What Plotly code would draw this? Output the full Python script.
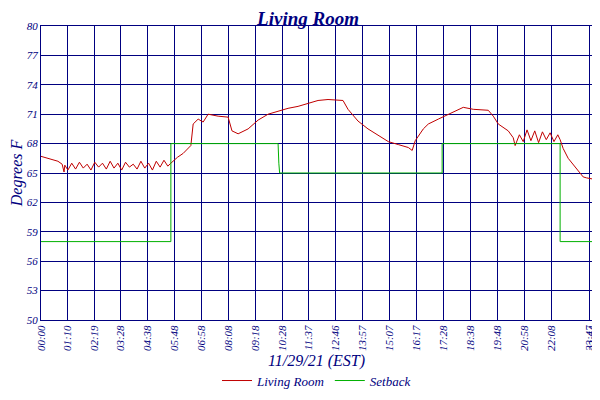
import plotly.graph_objects as go

# minutes since midnight
room_t = [0, 30, 44, 55, 60, 62,
          70, 80, 90, 100, 110, 120, 130, 140, 150, 160, 170, 180, 190, 200,
          210, 220, 230, 240, 250, 260, 270, 280, 290, 300, 310, 320, 330,
          338, 355, 370, 390, 396, 409, 422, 435, 461, 487, 497, 513, 539, 565,
          591, 617, 643, 669, 695, 721, 747, 786, 799, 825, 851, 878, 904, 930,
          956, 966, 974, 995, 1008, 1034, 1060, 1086, 1099, 1125, 1164, 1177,
          1190, 1216, 1229, 1234, 1245, 1255, 1265, 1275, 1285, 1295, 1305,
          1315, 1325, 1335, 1345, 1351, 1359, 1372, 1385, 1398, 1411, 1420, 1434]
room_v = [66.7, 66.4, 66.2, 65.9, 65.1, 65.8,
          65.3, 66.0, 65.4, 66.1, 65.5, 65.9, 65.3, 66.1, 65.6, 66.0, 65.4, 66.2,
          65.5, 66.0, 65.3, 66.1, 65.6, 65.9, 65.4, 66.2, 65.5, 66.0, 65.3, 66.2,
          65.6, 66.3, 65.7,
          66.0, 66.6, 67.0, 67.8, 70.0, 70.5, 70.2, 71.0, 70.8, 70.7, 69.3, 69.0,
          69.5, 70.4, 71.0, 71.3, 71.6, 71.8, 72.1, 72.4, 72.5, 72.4, 71.5, 70.3,
          69.5, 68.8, 68.2, 67.9, 67.6, 67.3, 68.3, 69.5, 70.0, 70.5, 71.0, 71.5,
          71.7, 71.5, 71.4, 70.8, 70.0, 69.3, 68.6, 67.8, 68.9, 68.2, 69.4, 68.3,
          69.3, 68.1, 69.2, 68.4, 69.1, 68.2, 68.9, 68.4, 67.5, 66.5, 65.9, 65.3,
          64.6, 64.5, 64.4]

setback_t = [0, 338, 338, 617, 619, 621, 1044, 1044, 1351, 1351, 1434]
setback_v = [58, 58, 68, 68, 66, 65, 65, 68, 68, 58, 58]

tick_vals = [0, 70, 139, 208, 278, 348, 418, 488, 558, 628, 697, 766, 837,
             907, 977, 1048, 1118, 1188, 1258, 1328, 1427, 1434]
tick_text = ["00:00", "01:10", "02:19", "03:28", "04:38", "05:48", "06:58",
             "08:08", "09:18", "10:28", "11:37", "12:46", "13:57", "15:07",
             "16:17", "17:28", "18:38", "19:48", "20:58", "22:08", "23:47", "23:54"]
y_vals = [50, 53, 56, 59, 62, 65, 68, 71, 74, 77, 80]

navy = "#000080"
fam = "Liberation Serif"
font = dict(family=fam, color=navy, size=11, style="italic")

fig = go.Figure()
fig.add_trace(go.Scatter(x=room_t, y=room_v, mode="lines", name="Living Room",
                         line=dict(color="#c00000", width=1)))
fig.add_trace(go.Scatter(x=setback_t, y=setback_v, mode="lines", name="Setback",
                         line=dict(color="#00b000", width=1)))
fig.add_trace(go.Scatter(x=[0], y=[50], yaxis="y2", showlegend=False,
                         mode="markers", marker=dict(opacity=0), hoverinfo="skip"))

axis_common = dict(showline=True, linecolor=navy, linewidth=1, gridcolor=navy,
                   gridwidth=1, zeroline=False, tickfont=font, ticks="",
                   automargin=False)
fig.update_layout(
    width=600, height=400,
    margin=dict(l=33, r=16, t=18, b=67),
    paper_bgcolor="white", plot_bgcolor="white",
    title=dict(text="Living Room", x=0.5, y=0.99, yanchor="top", xanchor="center",
               font=dict(family=fam, color=navy, size=19, style="italic", weight="bold")),
    xaxis=dict(range=[0, 1434], tickvals=tick_vals, ticktext=tick_text,
               tickangle=-90, mirror=True,
               title=dict(text="11/29/21 (EST)", standoff=4,
                          font=dict(family=fam, color=navy, size=16, style="italic")),
               **axis_common),
    yaxis=dict(range=[50, 80], tickvals=y_vals, mirror=True,
               title=dict(text="Degrees F", standoff=2,
                          font=dict(family=fam, color=navy, size=16, style="italic")),
               **axis_common),
    yaxis2=dict(range=[50, 80], tickvals=y_vals, overlaying="y", side="right",
                showgrid=False, showline=False, zeroline=False, tickfont=font,
                automargin=False, ticks="outside", ticklen=2, tickcolor="white"),
    legend=dict(orientation="h", x=0.5, xanchor="center", y=-0.155, yanchor="top",
                font=dict(family=fam, color=navy, size=13, style="italic")),
    showlegend=True,
)
fig.write_html("out.html")
